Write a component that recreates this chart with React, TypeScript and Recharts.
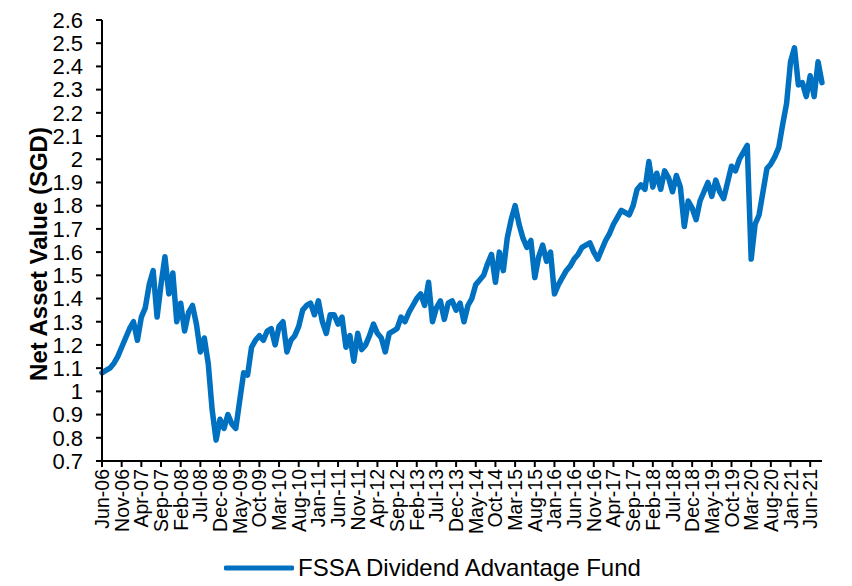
import React from 'react';
import { LineChart, Line, XAxis, YAxis, Legend, Label } from 'recharts';

const MONTHS = ['Jan', 'Feb', 'Mar', 'Apr', 'May', 'Jun', 'Jul', 'Aug', 'Sep', 'Oct', 'Nov', 'Dec'];

// Monthly NAV readings, Jun-06 .. Sep-21
const navValues = [
  1.08, 1.09, 1.10, 1.12, 1.15, 1.19, 1.23, 1.27, 1.30, 1.22,
  1.32, 1.36, 1.46, 1.52, 1.32, 1.46, 1.58, 1.42, 1.51, 1.30,
  1.38, 1.26, 1.34, 1.37, 1.29, 1.17, 1.23, 1.12, 0.92, 0.79,
  0.88, 0.84, 0.90, 0.86, 0.84, 0.96, 1.08, 1.07, 1.19, 1.22,
  1.24, 1.22, 1.26, 1.27, 1.20, 1.28, 1.30, 1.17, 1.22, 1.24,
  1.28, 1.35, 1.37, 1.38, 1.33, 1.39, 1.30, 1.25, 1.33, 1.33,
  1.29, 1.32, 1.19, 1.24, 1.13, 1.25, 1.18, 1.20, 1.24, 1.29,
  1.25, 1.23, 1.17, 1.25, 1.26, 1.27, 1.32, 1.30, 1.34, 1.37,
  1.40, 1.42, 1.37, 1.47, 1.30, 1.36, 1.39, 1.31, 1.38, 1.39,
  1.35, 1.38, 1.30, 1.37, 1.40, 1.46, 1.48, 1.50, 1.55, 1.59,
  1.47, 1.60, 1.52, 1.66, 1.74, 1.80, 1.72, 1.66, 1.62, 1.65,
  1.49, 1.58, 1.63, 1.56, 1.60, 1.42, 1.46, 1.49, 1.52, 1.54,
  1.57, 1.59, 1.62, 1.63, 1.64, 1.60, 1.57, 1.61, 1.65, 1.68,
  1.72, 1.75, 1.78, 1.77, 1.76, 1.80, 1.87, 1.89, 1.87, 1.99,
  1.88, 1.94, 1.87, 1.95, 1.92, 1.86, 1.93, 1.88, 1.71, 1.82,
  1.79, 1.74, 1.82, 1.86, 1.90, 1.84, 1.91, 1.86, 1.83, 1.90,
  1.97, 1.95, 2.00, 2.03, 2.06, 1.57, 1.72, 1.76, 1.86, 1.96,
  1.98, 2.01, 2.05, 2.15, 2.24, 2.42, 2.48, 2.32, 2.33, 2.27,
  2.36, 2.27, 2.42, 2.33,
];

const startYear = 2006;
const startMonth = 5; // June
const monthLabels = navValues.map((_, i) => {
  const t = startMonth + i;
  const y = startYear + Math.floor(t / 12);
  return `${MONTHS[t % 12]}-${String(y % 100).padStart(2, '0')}`;
});

const xTickLabels = [
  'Jun-06', 'Nov-06', 'Apr-07', 'Sep-07', 'Feb-08', 'Jul-08', 'Dec-08', 'May-09', 'Oct-09', 'Mar-10',
  'Aug-10', 'Jan-11', 'Jun-11', 'Nov-11', 'Apr-12', 'Sep-12', 'Feb-13', 'Jul-13', 'Dec-13', 'May-14',
  'Oct-14', 'Mar-15', 'Aug-15', 'Jan-16', 'Jun-16', 'Nov-16', 'Apr-17', 'Sep-17', 'Feb-18', 'Jul-18',
  'Dec-18', 'May-19', 'Oct-19', 'Mar-20', 'Aug-20', 'Jan-21', 'Jun-21',
];

const yTicks = [0.7, 0.8, 0.9, 1.0, 1.1, 1.2, 1.3, 1.4, 1.5, 1.6, 1.7, 1.8, 1.9, 2.0, 2.1, 2.2, 2.3, 2.4, 2.5, 2.6];

const seriesName = 'FSSA Dividend Advantage Fund';
const data = navValues.map((v, i) => ({ date: monthLabels[i], nav: v }));

const FONT = '"Liberation Sans", Arial, sans-serif';
const BLUE = '#0070C0';

const XTick = (props: any) => {
  const { x, y, payload } = props;
  return (
    <text
      x={x}
      y={y}
      transform={`rotate(-90 ${x} ${y})`}
      textAnchor="end"
      dy="0.36em"
      fontSize={19.5}
      fontFamily={FONT}
      fill="#000"
    >
      {payload.value}
    </text>
  );
};

const YLabel = () => (
  <text
    x={38}
    y={254}
    transform="rotate(-90 38 254)"
    textAnchor="middle"
    dominantBaseline="central"
    fontSize={24}
    fontWeight="bold"
    fontFamily={FONT}
    fill="#000"
  >
    Net Asset Value (SGD)
  </text>
);

const LegendContent = (props: any) => {
  const items = props.payload || [];
  return (
    <div style={{ display: 'flex', alignItems: 'center' }}>
      {items.map((it: any) => (
        <div key={it.value} style={{ display: 'flex', alignItems: 'center' }}>
          <svg width={70} height={10} style={{ display: 'block' }}>
            <line x1={2} y1={5} x2={68} y2={5} stroke={it.color} strokeWidth={5} strokeLinecap="round" />
          </svg>
          <span style={{ marginLeft: 4, fontSize: 24, fontFamily: FONT, color: '#000', lineHeight: '28px' }}>
            {it.value}
          </span>
        </div>
      ))}
    </div>
  );
};

export default function App() {
  return (
    <div style={{ position: 'absolute', left: 0, top: 0, width: 852, height: 586, background: '#fff' }}>
      <LineChart width={852} height={586} data={data} margin={{ top: 20, right: 30, bottom: 35, left: 0 }}>
        <XAxis
          dataKey="date"
          ticks={xTickLabels}
          interval={0}
          height={90}
          tick={<XTick />}
          tickSize={6}
          tickMargin={2}
          axisLine={{ stroke: '#000', strokeWidth: 2 }}
          tickLine={{ stroke: '#000', strokeWidth: 2 }}
        />
        <YAxis
          type="number"
          domain={[0.7, 2.6]}
          ticks={yTicks}
          interval={0}
          width={102}
          tickSize={6}
          tickMargin={13}
          tickFormatter={(v: number) => String(Number(v.toFixed(1)))}
          tick={{ fontSize: 22, fontFamily: FONT, fill: '#000' }}
          axisLine={{ stroke: '#000', strokeWidth: 2 }}
          tickLine={{ stroke: '#000', strokeWidth: 2 }}
        >
          <Label content={<YLabel />} />
        </YAxis>
        <Legend
          layout="horizontal"
          verticalAlign="middle"
          align="center"
          content={<LegendContent />}
          wrapperStyle={{ position: 'absolute', left: 224, top: 554, width: 520 }}
        />
        <Line
          type="linear"
          dataKey="nav"
          name={seriesName}
          stroke={BLUE}
          strokeWidth={5.5}
          strokeLinejoin="round"
          strokeLinecap="round"
          dot={false}
          activeDot={false}
          isAnimationActive={false}
        />
      </LineChart>
    </div>
  );
}
